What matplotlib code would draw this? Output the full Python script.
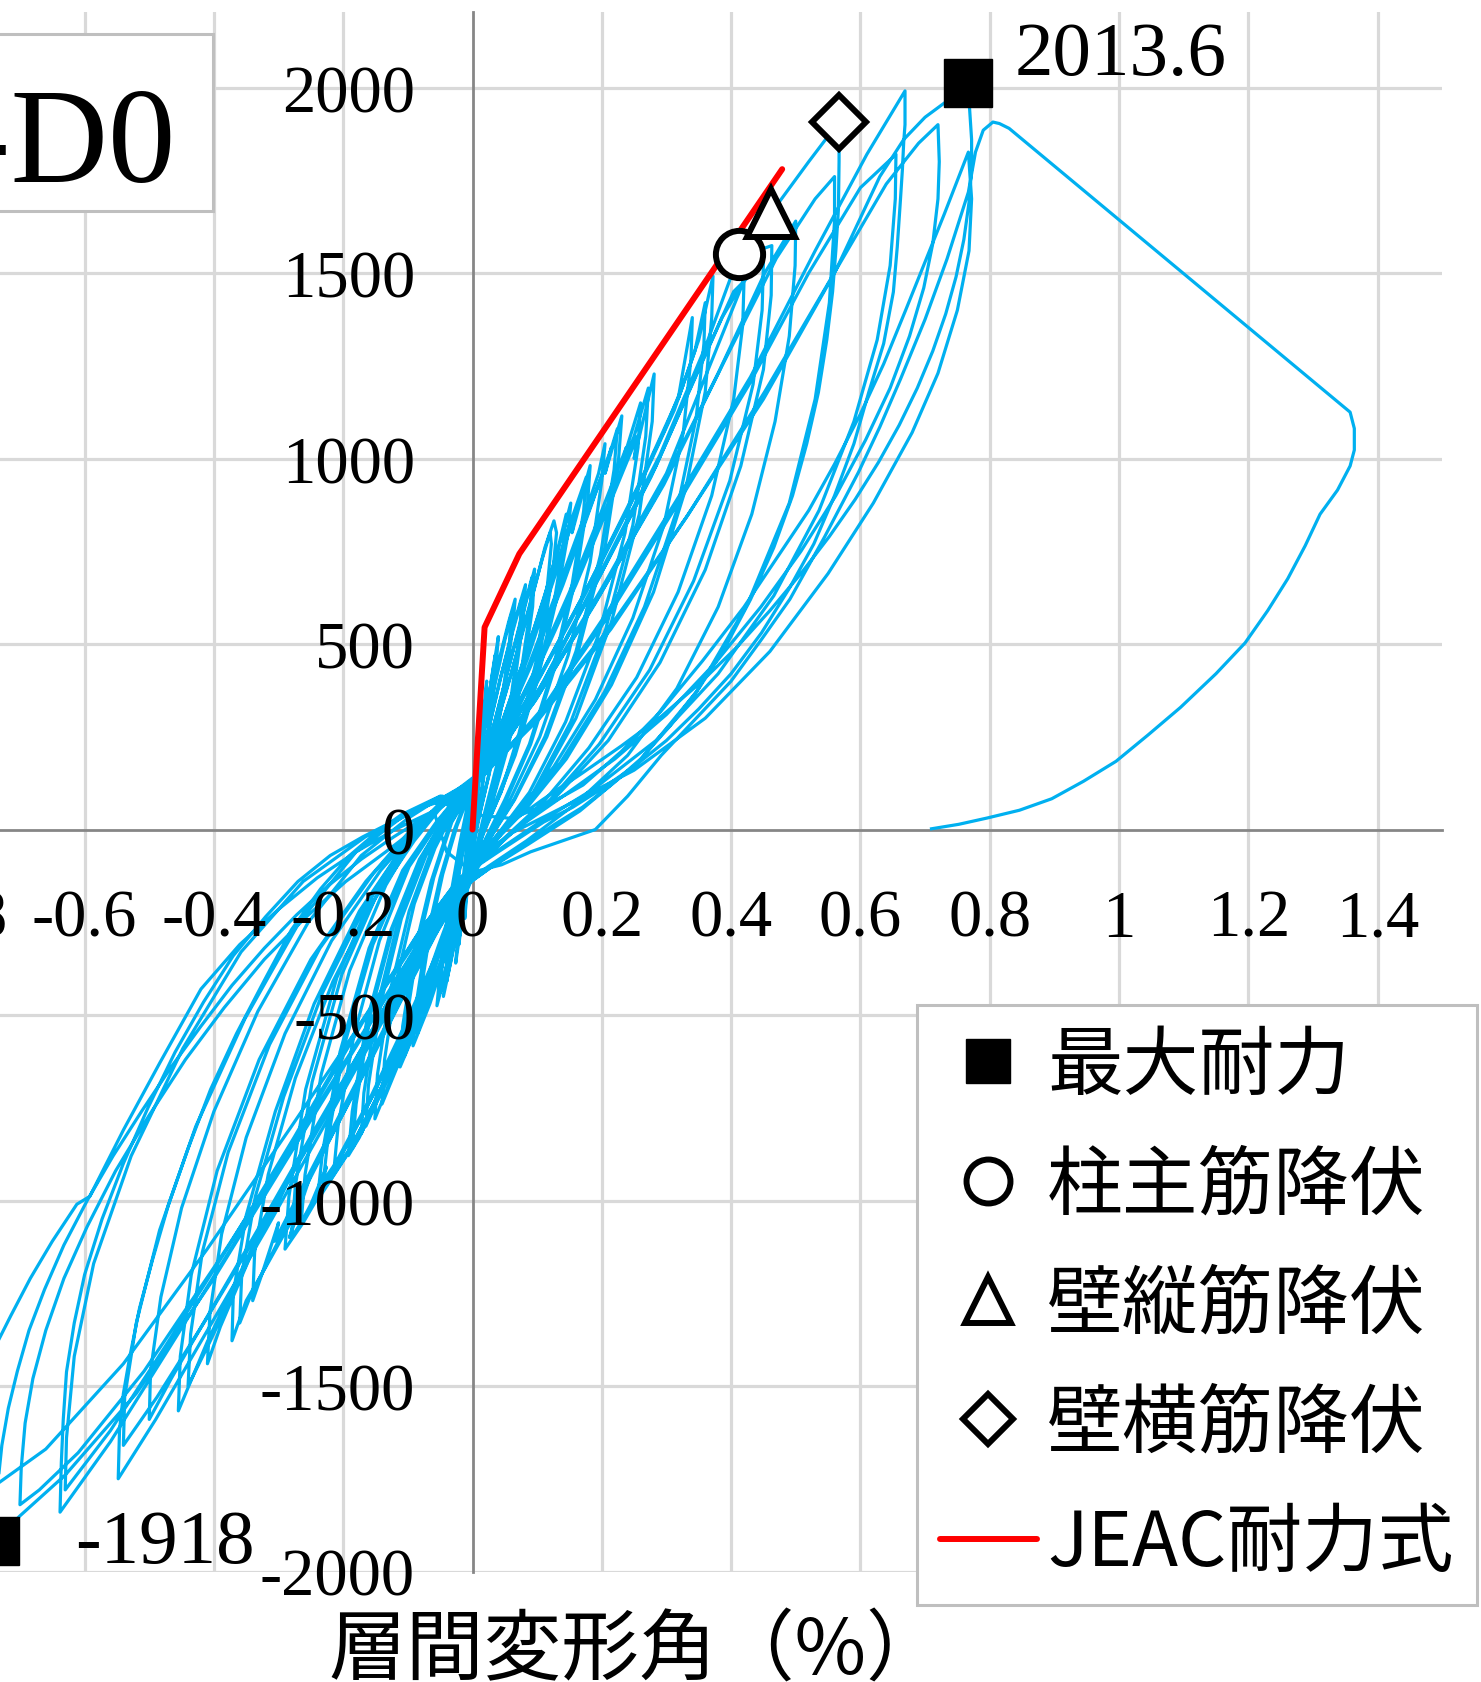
import matplotlib
matplotlib.use("Agg")
import matplotlib.pyplot as plt
from matplotlib.patches import Rectangle
from matplotlib.font_manager import FontProperties

plt.rcParams['font.family'] = ['Liberation Serif', 'DejaVu Serif']

# ---------------------------------------------------------------------------
# Load - story drift hysteresis, one list of (drift %, load kN) per cycle
# ---------------------------------------------------------------------------
cycle_01 = [(0.000, 0), (0.004, 110), (0.010, 260), (0.008, 190), (0.002, 40), (-0.004, -80),
            (-0.012, -240), (-0.010, -170), (-0.004, -30)]
cycle_02 = [(0.002, 60), (0.012, 230), (0.022, 400), (0.019, 320), (0.010, 130), (0.000, -40),
            (-0.012, -190), (-0.026, -360), (-0.022, -270), (-0.012, -90), (-0.002, 50)]
cycle_02b = [(0.001, 50), (0.010, 200), (0.018, 340), (0.016, 270), (0.008, 110), (-0.002, -50),
             (-0.012, -180), (-0.021, -310), (-0.018, -230), (-0.010, -80), (-0.001, 40)]
cycle_03 = [(0.000, 80), (0.016, 260), (0.030, 410), (0.040, 520), (0.036, 430), (0.024, 230),
            (0.010, 40), (-0.004, -90), (-0.020, -240), (-0.034, -360), (-0.045, -450),
            (-0.040, -360), (-0.026, -170), (-0.012, -20), (-0.002, 70)]
cycle_03b = [(0.000, 70), (0.014, 240), (0.027, 380), (0.035, 470), (0.032, 390), (0.021, 200),
             (0.008, 30), (-0.006, -100), (-0.020, -230), (-0.032, -340), (-0.040, -410),
             (-0.036, -320), (-0.024, -150), (-0.010, -10), (-0.001, 70)]
cycle_04 = [(0.004, 120), (0.020, 290), (0.040, 450), (0.056, 560), (0.066, 621), (0.062, 540),
            (0.048, 360), (0.028, 170), (0.010, 30), (-0.004, -90), (-0.020, -220), (-0.038, -360),
            (-0.055, -475), (-0.050, -380), (-0.036, -200), (-0.020, -40), (-0.006, 80)]
cycle_04b = [(0.000, 90), (0.018, 260), (0.036, 400), (0.050, 510), (0.060, 580), (0.057, 500),
             (0.044, 330), (0.026, 150), (0.008, 20), (-0.006, -100), (-0.022, -230),
             (-0.038, -350), (-0.050, -440), (-0.046, -350), (-0.032, -180), (-0.016, -30),
             (-0.004, 70)]
cycle_05 = [(0.006, 110), (0.025, 270), (0.045, 420), (0.065, 560), (0.082, 660), (0.078, 560),
            (0.064, 380), (0.044, 200), (0.022, 50), (0.004, -80), (-0.015, -200), (-0.040, -330),
            (-0.066, -470), (-0.092, -583), (-0.088, -480), (-0.072, -300), (-0.050, -130),
            (-0.028, 0), (-0.008, 90)]
cycle_05b = [(0.004, 100), (0.022, 250), (0.042, 400), (0.060, 520), (0.076, 620), (0.073, 530),
             (0.060, 360), (0.040, 190), (0.018, 40), (0.000, -90), (-0.020, -210),
             (-0.044, -340), (-0.066, -450), (-0.085, -550), (-0.081, -450), (-0.066, -280),
             (-0.046, -120), (-0.024, 10), (-0.006, 90)]
cycle_06 = [(0.004, 100), (0.030, 260), (0.055, 430), (0.078, 580), (0.096, 702), (0.093, 600),
            (0.078, 420), (0.056, 230), (0.030, 70), (0.008, -60), (-0.012, -170), (-0.040, -320),
            (-0.070, -460), (-0.095, -570), (-0.112, -640), (-0.108, -530), (-0.090, -330),
            (-0.064, -140), (-0.036, 10), (-0.010, 90)]
cycle_06b = [(0.002, 100), (0.028, 250), (0.052, 410), (0.074, 560), (0.092, 680), (0.089, 590),
             (0.074, 410), (0.052, 220), (0.028, 60), (0.006, -70), (-0.016, -180),
             (-0.044, -330), (-0.072, -460), (-0.092, -550), (-0.105, -610), (-0.101, -500),
             (-0.084, -310), (-0.060, -130), (-0.032, 20), (-0.008, 90)]
cycle_07 = [(0.000, 90), (0.030, 240), (0.060, 420), (0.090, 610), (0.112, 760), (0.126, 832),
            (0.130, 800), (0.124, 690), (0.104, 470), (0.076, 270), (0.046, 110), (0.018, 0),
            (0.000, -80), (-0.030, -230), (-0.065, -400), (-0.100, -560), (-0.130, -690),
            (-0.151, -780), (-0.147, -660), (-0.128, -440), (-0.098, -220), (-0.064, -60),
            (-0.030, 50), (-0.006, 100)]
cycle_07b = [(0.000, 90), (0.028, 230), (0.058, 410), (0.086, 590), (0.108, 730), (0.120, 800),
             (0.122, 770), (0.116, 660), (0.098, 450), (0.072, 260), (0.044, 100), (0.016, -10),
             (-0.002, -90), (-0.032, -240), (-0.066, -410), (-0.100, -570), (-0.126, -680),
             (-0.140, -740), (-0.136, -620), (-0.118, -410), (-0.090, -200), (-0.058, -50),
             (-0.026, 60), (-0.004, 100)]
cycle_08 = [(0.002, 100), (0.040, 260), (0.080, 460), (0.115, 650), (0.140, 800), (0.152, 880),
            (0.148, 800), (0.130, 620), (0.100, 400), (0.066, 200), (0.034, 60), (0.010, -40),
            (-0.015, -140), (-0.050, -310), (-0.090, -500), (-0.130, -660), (-0.160, -770),
            (-0.172, -820), (-0.168, -710), (-0.148, -480), (-0.114, -240), (-0.074, -60),
            (-0.036, 50), (-0.008, 100)]
cycle_08b = [(0.002, 100), (0.038, 250), (0.076, 440), (0.110, 620), (0.134, 770), (0.145, 850),
             (0.141, 770), (0.124, 590), (0.096, 380), (0.062, 190), (0.030, 50), (0.006, -50),
             (-0.018, -150), (-0.052, -310), (-0.088, -490), (-0.124, -640), (-0.152, -750),
             (-0.165, -800), (-0.161, -690), (-0.142, -470), (-0.110, -240), (-0.072, -70),
             (-0.034, 40), (-0.006, 100)]
cycle_09 = [(0.000, 90), (0.040, 250), (0.085, 460), (0.125, 670), (0.160, 860), (0.154, 800),
            (0.182, 981), (0.178, 880), (0.160, 680), (0.128, 440), (0.090, 230), (0.050, 70),
            (0.018, -40), (-0.010, -140), (-0.050, -320), (-0.095, -520), (-0.140, -700),
            (-0.175, -830), (-0.192, -879), (-0.186, -760), (-0.164, -520), (-0.126, -270),
            (-0.082, -80), (-0.040, 40), (-0.008, 100)]
cycle_09b = [(0.000, 100), (0.040, 260), (0.082, 460), (0.120, 660), (0.152, 830), (0.176, 950),
             (0.172, 860), (0.154, 660), (0.124, 430), (0.088, 230), (0.050, 80), (0.016, -40),
             (-0.012, -150), (-0.052, -330), (-0.096, -530), (-0.138, -700), (-0.170, -810),
             (-0.186, -860), (-0.180, -740), (-0.158, -500), (-0.122, -260), (-0.080, -80),
             (-0.040, 40), (-0.010, 100)]
cycle_10 = [(-0.005, 90), (0.040, 240), (0.090, 440), (0.140, 660), (0.185, 880), (0.215, 1030),
            (0.205, 960), (0.231, 1115), (0.226, 1000), (0.205, 760), (0.165, 490), (0.115, 250),
            (0.065, 80), (0.025, -30), (-0.005, -130), (-0.050, -320), (-0.100, -530),
            (-0.150, -730), (-0.195, -880), (-0.225, -960), (-0.240, -1000), (-0.232, -870),
            (-0.205, -600), (-0.160, -320), (-0.108, -110), (-0.056, 20), (-0.018, 100)]
cycle_10b = [(-0.006, 90), (0.040, 240), (0.088, 440), (0.136, 650), (0.180, 860), (0.210, 1000),
             (0.224, 1080), (0.219, 970), (0.198, 740), (0.160, 480), (0.112, 250), (0.064, 80),
             (0.024, -30), (-0.006, -130), (-0.052, -330), (-0.102, -540), (-0.152, -740),
             (-0.196, -880), (-0.222, -950), (-0.232, -970), (-0.224, -840), (-0.198, -580),
             (-0.154, -310), (-0.104, -110), (-0.054, 20), (-0.018, 100)]
cycle_10c = [(-0.008, 90), (0.036, 230), (0.082, 420), (0.128, 630), (0.170, 830), (0.195, 960),
             (0.205, 1040), (0.200, 940), (0.182, 720), (0.148, 470), (0.104, 250), (0.058, 80),
             (0.020, -30), (-0.008, -130), (-0.050, -320), (-0.096, -520), (-0.142, -700),
             (-0.182, -840), (-0.205, -900), (-0.215, -930), (-0.208, -800), (-0.184, -560),
             (-0.144, -300), (-0.098, -100), (-0.052, 20), (-0.016, 100)]
cycle_11 = [(-0.010, 80), (0.040, 220), (0.100, 430), (0.160, 660), (0.215, 890), (0.255, 1060),
            (0.250, 1000), (0.281, 1228), (0.278, 1100), (0.258, 850), (0.215, 560), (0.160, 300),
            (0.100, 110), (0.045, -10), (0.005, -110), (-0.040, -290), (-0.095, -500),
            (-0.155, -720), (-0.215, -920), (-0.262, -1060), (-0.290, -1131), (-0.284, -990),
            (-0.258, -700), (-0.210, -400), (-0.150, -160), (-0.090, 0), (-0.040, 90)]
cycle_11b = [(-0.012, 80), (0.038, 220), (0.098, 430), (0.158, 660), (0.210, 880), (0.250, 1060),
             (0.272, 1190), (0.268, 1060), (0.248, 820), (0.206, 540), (0.152, 290), (0.094, 100),
             (0.040, -20), (0.002, -115), (-0.042, -290), (-0.098, -510), (-0.158, -730),
             (-0.216, -920), (-0.258, -1040), (-0.280, -1100), (-0.274, -960), (-0.248, -680),
             (-0.202, -390), (-0.144, -160), (-0.086, 0), (-0.038, 90)]
cycle_11c = [(-0.014, 80), (0.036, 220), (0.094, 420), (0.150, 640), (0.200, 860), (0.238, 1030),
             (0.230, 980), (0.260, 1150), (0.256, 1030), (0.236, 800), (0.196, 530), (0.144, 290),
             (0.088, 100), (0.036, -20), (0.000, -115), (-0.044, -290), (-0.100, -510),
             (-0.160, -730), (-0.212, -900), (-0.232, -950), (-0.226, -910), (-0.250, -1010),
             (-0.265, -1060), (-0.259, -930), (-0.234, -660), (-0.190, -380), (-0.134, -150),
             (-0.080, 10), (-0.036, 90)]
cycle_12 = [(-0.020, 70), (0.030, 180), (0.100, 400), (0.180, 660), (0.260, 940), (0.320, 1170),
            (0.350, 1320), (0.372, 1492), (0.370, 1380), (0.360, 1180), (0.330, 920), (0.280, 640),
            (0.215, 390), (0.145, 190), (0.080, 50), (0.030, -40), (-0.005, -120), (-0.050, -260),
            (-0.110, -460), (-0.180, -700), (-0.250, -930), (-0.283, -1100), (-0.272, -1030),
            (-0.320, -1180), (-0.350, -1270), (-0.372, -1378), (-0.370, -1250), (-0.350, -1040),
            (-0.305, -760), (-0.245, -470), (-0.175, -220), (-0.105, -40), (-0.050, 70)]
cycle_12b = [(-0.022, 80), (0.028, 180), (0.098, 390), (0.176, 640), (0.254, 910), (0.312, 1130),
             (0.344, 1290), (0.360, 1420), (0.358, 1310), (0.346, 1110), (0.316, 860),
             (0.266, 600), (0.204, 370), (0.136, 180), (0.074, 50), (0.026, -40), (-0.008, -120),
             (-0.054, -270), (-0.114, -470), (-0.184, -710), (-0.254, -950), (-0.312, -1150),
             (-0.344, -1260), (-0.360, -1330), (-0.357, -1200), (-0.336, -990), (-0.292, -720),
             (-0.232, -440), (-0.164, -200), (-0.098, -30), (-0.046, 70)]
cycle_12c = [(-0.024, 80), (0.026, 180), (0.094, 380), (0.168, 620), (0.242, 870), (0.298, 1080),
             (0.326, 1200), (0.318, 1160), (0.340, 1380), (0.338, 1270), (0.326, 1070),
             (0.296, 820), (0.248, 570), (0.190, 350), (0.126, 170), (0.068, 40), (0.022, -45),
             (-0.010, -120), (-0.058, -280), (-0.120, -480), (-0.188, -710), (-0.256, -940),
             (-0.306, -1110), (-0.300, -1060), (-0.326, -1200), (-0.340, -1270), (-0.337, -1140),
             (-0.316, -930), (-0.274, -670), (-0.216, -410), (-0.152, -190), (-0.090, -30),
             (-0.044, 70)]
cycle_13 = [(-0.030, 60), (0.030, 170), (0.110, 400), (0.200, 700), (0.290, 1010), (0.360, 1300),
            (0.4126, 1551), (0.440, 1560), (0.463, 1574), (0.462, 1440), (0.450, 1240),
            (0.415, 980), (0.360, 700), (0.290, 450), (0.210, 240), (0.130, 90), (0.060, -10),
            (0.010, -90), (-0.040, -200), (-0.110, -400), (-0.190, -650), (-0.275, -910),
            (-0.350, -1160), (-0.410, -1380), (-0.455, -1567), (-0.452, -1420), (-0.435, -1200),
            (-0.395, -920), (-0.330, -620), (-0.250, -350), (-0.165, -140), (-0.090, 10),
            (-0.040, 80)]
cycle_13b = [(-0.032, 80), (0.028, 170), (0.108, 390), (0.196, 680), (0.284, 980), (0.352, 1250),
             (0.404, 1450), (0.450, 1530), (0.448, 1400), (0.434, 1200), (0.398, 940),
             (0.342, 670), (0.274, 430), (0.196, 230), (0.120, 80), (0.054, -20), (0.006, -100),
             (-0.044, -210), (-0.116, -420), (-0.196, -670), (-0.280, -930), (-0.352, -1180),
             (-0.406, -1380), (-0.440, -1500), (-0.436, -1360), (-0.418, -1140), (-0.378, -870),
             (-0.314, -580), (-0.236, -320), (-0.154, -120), (-0.082, 20), (-0.036, 80)]
cycle_13c = [(-0.034, 80), (0.026, 170), (0.104, 380), (0.190, 660), (0.276, 950), (0.340, 1200),
             (0.386, 1380), (0.420, 1480), (0.418, 1360), (0.404, 1160), (0.370, 900),
             (0.318, 640), (0.254, 410), (0.180, 220), (0.110, 75), (0.048, -25), (0.004, -105),
             (-0.048, -220), (-0.120, -430), (-0.200, -680), (-0.280, -930), (-0.346, -1160),
             (-0.390, -1340), (-0.410, -1440), (-0.406, -1300), (-0.388, -1090), (-0.350, -830),
             (-0.290, -550), (-0.218, -300), (-0.142, -110), (-0.076, 20), (-0.034, 80)]
cycle_14 = [(-0.040, 80), (0.020, 160), (0.100, 360), (0.200, 650), (0.300, 960), (0.390, 1350),
            (0.462, 1662), (0.520, 1800), (0.567, 1908), (0.567, 1800), (0.566, 1672),
            (0.562, 1560), (0.557, 1450), (0.548, 1320), (0.535, 1178), (0.517, 1040),
            (0.495, 900), (0.466, 760), (0.430, 620), (0.392, 495), (0.350, 380), (0.306, 280),
            (0.260, 190), (0.214, 120), (0.170, 60), (0.128, 15), (0.090, -30), (0.030, -100),
            (-0.010, -150), (-0.060, -290), (-0.140, -520), (-0.230, -800), (-0.320, -1080),
            (-0.410, -1350), (-0.490, -1590), (-0.548, -1750), (-0.547, -1680), (-0.546, -1620),
            (-0.540, -1520), (-0.530, -1420), (-0.515, -1290), (-0.495, -1160), (-0.470, -1010),
            (-0.440, -860), (-0.405, -700), (-0.365, -550), (-0.323, -410), (-0.280, -270),
            (-0.235, -160), (-0.190, -70), (-0.150, -10), (-0.110, 40), (-0.050, 90)]
cycle_14b = [(-0.042, 80), (0.018, 160), (0.098, 350), (0.196, 630), (0.296, 930), (0.386, 1250),
             (0.470, 1540), (0.530, 1700), (0.560, 1760), (0.560, 1640), (0.552, 1420),
             (0.530, 1160), (0.490, 880), (0.426, 610), (0.346, 370), (0.256, 180), (0.166, 50),
             (0.086, -40), (0.026, -105), (-0.014, -155), (-0.066, -300), (-0.146, -530),
             (-0.236, -800), (-0.326, -1070), (-0.412, -1320), (-0.488, -1530), (-0.540, -1660),
             (-0.538, -1530), (-0.520, -1330), (-0.484, -1080), (-0.428, -800), (-0.352, -510),
             (-0.268, -250), (-0.180, -60), (-0.104, 40), (-0.048, 90)]
cycle_14c = [(-0.044, 80), (0.016, 160), (0.094, 340), (0.190, 610), (0.288, 910), (0.380, 1230),
             (0.452, 1500), (0.500, 1640), (0.499, 1520), (0.490, 1330), (0.468, 1100),
             (0.432, 850), (0.380, 600), (0.316, 380), (0.240, 200), (0.160, 70), (0.084, -30),
             (0.024, -100), (-0.016, -150), (-0.068, -290), (-0.148, -520), (-0.238, -790),
             (-0.326, -1060), (-0.406, -1300), (-0.466, -1480), (-0.500, -1590), (-0.498, -1460),
             (-0.482, -1260), (-0.450, -1020), (-0.400, -760), (-0.332, -490), (-0.254, -250),
             (-0.172, -70), (-0.100, 30), (-0.046, 90)]
cycle_15 = [(-0.050, 80), (0.020, 150), (0.110, 330), (0.210, 590), (0.320, 900), (0.430, 1220),
            (0.530, 1560), (0.610, 1820), (0.669, 1991), (0.669, 1900), (0.667, 1853),
            (0.665, 1780), (0.662, 1699), (0.657, 1570), (0.651, 1449), (0.636, 1310),
            (0.613, 1179), (0.590, 1040), (0.560, 900), (0.528, 770), (0.490, 650), (0.447, 530),
            (0.400, 420), (0.350, 325), (0.300, 240), (0.250, 170), (0.200, 110), (0.155, 60),
            (0.110, 20), (0.040, -60), (-0.020, -130), (-0.080, -270), (-0.170, -520),
            (-0.270, -820), (-0.370, -1120), (-0.470, -1400), (-0.560, -1650), (-0.638, -1840),
            (-0.637, -1770), (-0.636, -1706), (-0.633, -1590), (-0.628, -1462), (-0.616, -1330),
            (-0.600, -1200), (-0.573, -1050), (-0.540, -900), (-0.502, -750), (-0.460, -600),
            (-0.416, -465), (-0.370, -340), (-0.320, -235), (-0.270, -140), (-0.220, -70),
            (-0.170, -20), (-0.080, 60)]
cycle_15b = [(-0.052, 80), (0.018, 150), (0.108, 320), (0.208, 570), (0.318, 880), (0.428, 1200),
             (0.520, 1500), (0.600, 1730), (0.655, 1820), (0.654, 1700), (0.646, 1520),
             (0.626, 1320), (0.590, 1100), (0.536, 860), (0.466, 630), (0.380, 420), (0.284, 240),
             (0.188, 110), (0.104, 20), (0.036, -60), (-0.022, -135), (-0.084, -280),
             (-0.176, -530), (-0.276, -830), (-0.376, -1120), (-0.474, -1390), (-0.560, -1620),
             (-0.630, -1780), (-0.628, -1640), (-0.616, -1420), (-0.586, -1170), (-0.528, -880),
             (-0.448, -590), (-0.358, -330), (-0.262, -140), (-0.166, -20), (-0.078, 60)]
cycle_16 = [(-0.060, 70), (0.010, 140), (0.100, 300), (0.210, 540), (0.330, 840), (0.450, 1160),
            (0.560, 1500), (0.630, 1760), (0.667, 1860), (0.700, 1920), (0.735, 1965),
            (0.766, 2013.6), (0.769, 1940), (0.772, 1860), (0.772, 1780), (0.768, 1690),
            (0.760, 1590), (0.748, 1490), (0.732, 1390), (0.712, 1290), (0.688, 1190),
            (0.660, 1090), (0.628, 990), (0.592, 890), (0.552, 790), (0.508, 690), (0.460, 590),
            (0.408, 490), (0.352, 395), (0.292, 305), (0.230, 225), (0.168, 150), (0.108, 80),
            (0.052, 10), (0.000, -100), (-0.060, -240), (-0.150, -500), (-0.270, -840),
            (-0.400, -1210), (-0.520, -1520), (-0.630, -1740), (-0.700, -1850), (-0.739, -1918),
            (-0.737, -1840), (-0.734, -1760), (-0.728, -1660), (-0.718, -1560), (-0.704, -1460),
            (-0.686, -1350), (-0.662, -1240), (-0.632, -1120), (-0.596, -1000), (-0.556, -880),
            (-0.512, -760), (-0.466, -640), (-0.420, -530), (-0.372, -420), (-0.322, -320),
            (-0.272, -230), (-0.222, -150), (-0.172, -80), (-0.122, -20), (-0.072, 35),
            (-0.030, 90)]
cycle_16b = [(-0.056, 70), (0.012, 140), (0.104, 300), (0.214, 540), (0.334, 850), (0.452, 1180),
             (0.556, 1490), (0.640, 1740), (0.690, 1850), (0.720, 1900), (0.722, 1800),
             (0.720, 1700), (0.712, 1580), (0.698, 1460), (0.676, 1330), (0.646, 1190),
             (0.608, 1050), (0.562, 900), (0.508, 750), (0.446, 600), (0.376, 450), (0.300, 310),
             (0.220, 190), (0.140, 90), (0.066, 0), (0.004, -100), (-0.060, -240), (-0.156, -510),
             (-0.270, -830), (-0.392, -1160), (-0.508, -1460), (-0.610, -1680), (-0.670, -1780),
             (-0.700, -1820), (-0.698, -1720), (-0.692, -1600), (-0.680, -1480), (-0.660, -1350),
             (-0.632, -1210), (-0.596, -1070), (-0.552, -920), (-0.500, -770), (-0.444, -620),
             (-0.384, -480), (-0.322, -350), (-0.260, -240), (-0.196, -140), (-0.134, -60),
             (-0.074, 20), (-0.030, 90)]
cycle_17 = [(0.000, 40), (0.060, 30), (0.120, 70), (0.171, 120), (0.230, 210), (0.292, 320),
            (0.356, 455), (0.420, 600), (0.470, 730), (0.520, 860), (0.560, 985), (0.600, 1120),
            (0.636, 1255), (0.670, 1400), (0.700, 1530), (0.730, 1660), (0.750, 1750),
            (0.767, 1826), (0.772, 1700), (0.768, 1560), (0.750, 1400), (0.720, 1230),
            (0.680, 1070), (0.620, 880), (0.550, 690), (0.460, 480), (0.360, 300), (0.250, 160),
            (0.140, 60), (0.060, -10), (0.000, -90), (-0.060, -230), (-0.160, -490),
            (-0.280, -800), (-0.410, -1130), (-0.540, -1440), (-0.660, -1670), (-0.740, -1770),
            (-0.800, -1800), (-0.798, -1720), (-0.792, -1640), (-0.780, -1560), (-0.762, -1480),
            (-0.740, -1400), (-0.714, -1310), (-0.684, -1210), (-0.650, -1110), (-0.612, -1010),
            (-0.592, -989), (-0.540, -810), (-0.484, -630), (-0.420, -430), (-0.360, -310),
            (-0.300, -215), (-0.240, -130), (-0.180, -60), (-0.120, 0), (-0.060, 50)]
cycle_18 = [(-0.040, -60), (0.000, -115), (0.045, -95), (0.090, -60), (0.140, -30), (0.190, 0),
            (0.240, 90), (0.292, 200), (0.346, 300), (0.400, 400), (0.446, 510), (0.491, 621),
            (0.545, 790), (0.597, 963), (0.630, 1085), (0.662, 1214), (0.700, 1375),
            (0.734, 1538), (0.767, 1718), (0.778, 1826), (0.790, 1885), (0.805, 1907),
            (0.815, 1903), (0.830, 1890), (1.3575, 1125), (1.364, 1081), (1.364, 1023),
            (1.3575, 980), (1.338, 915), (1.311, 850), (1.288, 765), (1.261, 676), (1.230, 590),
            (1.195, 503), (1.150, 420), (1.095, 329), (1.045, 255), (0.9955, 184), (0.945, 130),
            (0.896, 83), (0.846, 52), (0.796, 31), (0.752, 14), (0.710, 2)]

cycles = [cycle_01, cycle_02, cycle_02b, cycle_03, cycle_03b, cycle_04, cycle_04b, cycle_05,
          cycle_05b, cycle_06, cycle_06b, cycle_07, cycle_07b, cycle_08, cycle_08b, cycle_09,
          cycle_09b, cycle_10, cycle_10b, cycle_10c, cycle_11, cycle_11b, cycle_11c, cycle_12,
          cycle_12b, cycle_12c, cycle_13, cycle_13b, cycle_13c, cycle_14, cycle_14b, cycle_14c,
          cycle_15, cycle_15b, cycle_16, cycle_16b, cycle_17, cycle_18]

# JEAC strength formula (skeleton curve)
jeac_drift = [0.0, 0.0187, 0.0724, 0.479]
jeac_load = [0, 545, 743, 1780]

# Events
peak_drift = [0.766, -0.739]
peak_load = [2013.6, -1918]
col_yield_drift, col_yield_load = [0.4126], [1551]
wall_v_yield_drift, wall_v_yield_load = [0.462], [1662]
wall_h_yield_drift, wall_h_yield_load = [0.567], [1908]

x_ticks = [-1.0, -0.8, -0.6, -0.4, -0.2, 0.0, 0.2, 0.4, 0.6, 0.8, 1.0, 1.2, 1.4]
y_ticks = [-2000, -1500, -1000, -500, 0, 500, 1000, 1500, 2000]

legend_labels = ['最大耐力', '柱主筋降伏', '壁縦筋降伏', '壁横筋降伏', 'JEAC耐力式']
x_title = '層間変形角（%）'
specimen = 'W-D0'

# ---------------------------------------------------------------------------
W_PX, H_PX = 1481, 1683
fig = plt.figure(figsize=(W_PX / 100, H_PX / 100), dpi=100, facecolor='white')
ax = fig.add_axes([-174 / W_PX, (H_PX - 1572.5) / H_PX, 1616.25 / W_PX, 1560 / H_PX])
ax.set_xlim(-1.0, 1.5)
ax.set_ylim(-2000, 2205)

grid_kw = dict(color='#d9d9d9', lw=2.3, zorder=0)
for xv in x_ticks:
    if xv != 0:
        ax.axvline(xv, **grid_kw)
for yv in y_ticks:
    if yv != 0:
        ax.axhline(yv, **grid_kw)

for side in ('top', 'right'):
    ax.spines[side].set_visible(False)
for side in ('left', 'bottom'):
    ax.spines[side].set_position(('data', 0))
    ax.spines[side].set_color('#868686')
    ax.spines[side].set_linewidth(2.0)
    ax.spines[side].set_zorder(1)

ax.set_xticks(x_ticks)
ax.set_xticklabels([f'{v:g}' for v in x_ticks])
ax.set_yticks(y_ticks)
ax.set_yticklabels([f'{v:g}' for v in y_ticks])
ax.tick_params(axis='x', length=0, labelsize=48, pad=42.5)
ax.tick_params(axis='y', length=0, labelsize=48, pad=41.4)
ax.xaxis.set_zorder(6)
ax.yaxis.set_zorder(6)

drift = [p[0] for c in cycles for p in c]
load = [p[1] for c in cycles for p in c]
ax.plot(drift, load, color='#00B0F0', lw=2.3, solid_joinstyle='round', zorder=2)

red, = ax.plot(jeac_drift, jeac_load, color='#FF0000', lw=4.3, solid_capstyle='round', zorder=3)

mk = dict(ls='none', mfc='white', mec='black', mew=4.3, zorder=5)
sq, = ax.plot(peak_drift, peak_load, ls='none', marker='s', ms=34, color='black', zorder=5)
ci, = ax.plot(col_yield_drift, col_yield_load, marker='o', ms=34, **mk)
tr, = ax.plot(wall_v_yield_drift, wall_v_yield_load, marker='^', ms=35, **mk)
di, = ax.plot(wall_h_yield_drift, wall_h_yield_load, marker='D', ms=27, **mk)

ax.annotate(f'{peak_load[0]:g}', xy=(peak_drift[0], peak_load[0]), xytext=(33.5, 6.0),
            textcoords='offset points', fontsize=55.5, ha='left', va='baseline', zorder=7)
ax.annotate(f'{peak_load[1]:g}', xy=(peak_drift[1], peak_load[1]), xytext=(57.6, -15.1),
            textcoords='offset points', fontsize=55.5, ha='left', va='baseline', zorder=7)

ax.set_xlabel(x_title, family=['Noto Sans CJK JP', 'DejaVu Sans'], fontsize=56)
ax.xaxis.set_label_coords((636 + 174) / 1616.25, (1572.5 - 1675) / 1560)
ax.xaxis.label.set_va('baseline')

leg = ax.legend([sq, ci, tr, di, red], legend_labels, loc='upper left',
                bbox_to_anchor=(917 / W_PX, 1 - 1006 / H_PX), bbox_transform=fig.transFigure,
                prop=FontProperties(family=['Noto Sans CJK JP'], size=54.5),
                numpoints=1, markerscale=0.93, handlelength=1.28, handletextpad=0.14,
                borderpad=0.3, labelspacing=0.56, borderaxespad=0, fancybox=False,
                framealpha=1, edgecolor='#bfbfbf')
leg.get_frame().set_linewidth(2.2)
leg.set_zorder(8)

# specimen name box in the upper-left corner
fig.add_artist(Rectangle((-60 / W_PX, 1 - 212 / H_PX), 273 / W_PX, 177 / H_PX,
                         transform=fig.transFigure, facecolor='white', edgecolor='#bfbfbf',
                         lw=2.2, zorder=4))
fig.text(176 / W_PX, 1 - 182 / H_PX, specimen, ha='right', va='baseline', fontsize=97, zorder=5)

fig.savefig('out.png', dpi=100, facecolor='white')
